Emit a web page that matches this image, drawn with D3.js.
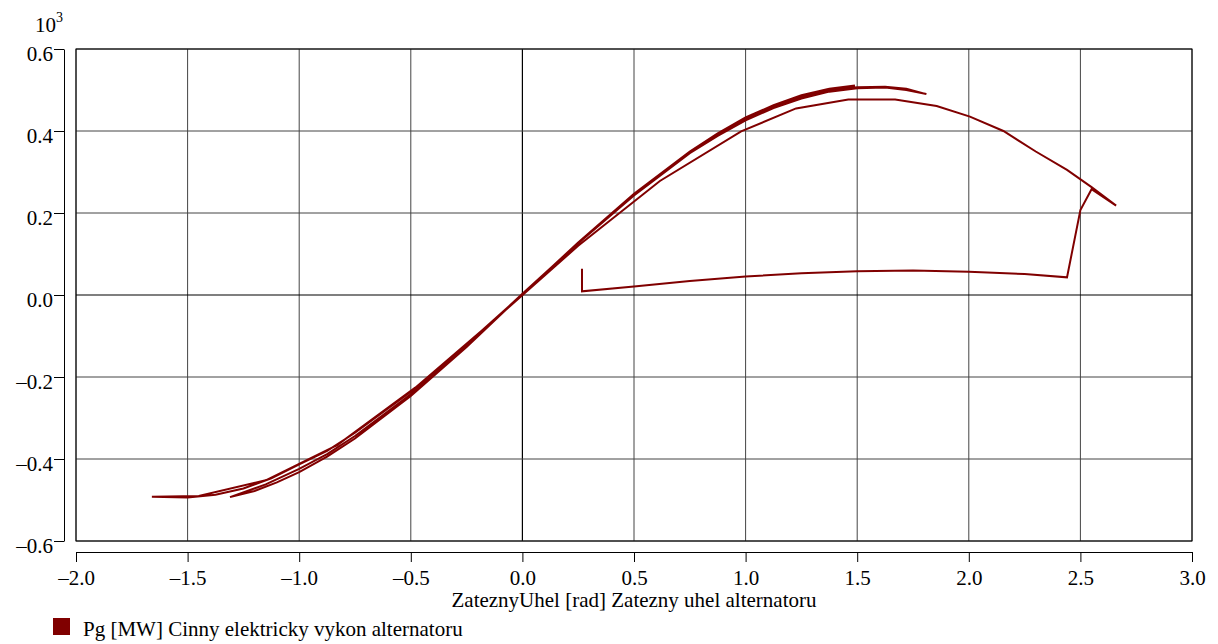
<!DOCTYPE html>
<html>
<head>
<meta charset="utf-8">
<script src="https://d3js.org/d3.v7.min.js"></script>
<style>
  body { margin: 0; background: #fff; }
  svg { display: block; }
</style>
</head>
<body>
<div id="chart-area"></div>
<script>
// Pg vs zatezny uhel - trajectory of the alternator (values in 10^3 MW)

var xTicks = [-2.0, -1.5, -1.0, -0.5, 0.0, 0.5, 1.0, 1.5, 2.0, 2.5, 3.0];
var yTicks = [-0.6, -0.4, -0.2, 0.0, 0.2, 0.4, 0.6];

// [delta rad, P 10^3 MW], in time order
var preFault = [[0.267, 0.064], [0.267, 0.009]];
var faultOn = [[0.5, 0.021], [0.75, 0.034], [1.0, 0.045], [1.25, 0.053], [1.5, 0.058],
               [1.75, 0.0595], [2.0, 0.057], [2.25, 0.051], [2.44, 0.043]];
var clearing = [[2.50, 0.207], [2.55, 0.258], [2.66, 0.218]];
var swing1 = [[2.55, 0.263], [2.44, 0.305], [2.30, 0.35], [2.155, 0.40], [2.005, 0.435],
              [1.856, 0.461], [1.67, 0.477], [1.46, 0.477], [1.226, 0.455], [0.98, 0.399],
              [0.616, 0.278], [0.25, 0.12], [-0.12, -0.058], [-0.48, -0.226], [-0.83, -0.366],
              [-1.15, -0.452], [-1.45, -0.49], [-1.66, -0.492]];
var swing2 = [[-1.5, -0.494], [-1.375, -0.487], [-1.25, -0.472], [-1.125, -0.447], [-1.0, -0.413],
              [-0.875, -0.38], [-0.75, -0.336], [-0.5, -0.236], [-0.25, -0.12], [0, 0.002],
              [0.25, 0.126], [0.5, 0.243], [0.75, 0.346], [0.875, 0.388], [1.0, 0.426],
              [1.125, 0.456], [1.25, 0.479], [1.375, 0.496], [1.5, 0.504], [1.625, 0.506],
              [1.72, 0.50], [1.81, 0.49]];
var swing3 = [[1.72, 0.503], [1.625, 0.508], [1.5, 0.507], [1.375, 0.499], [1.25, 0.483],
              [1.125, 0.459], [1.0, 0.429], [0.875, 0.391], [0.75, 0.348], [0.5, 0.245],
              [0.25, 0.127], [0, 0.003], [-0.25, -0.123], [-0.5, -0.242], [-0.75, -0.344],
              [-0.875, -0.388], [-1.0, -0.424], [-1.15, -0.462], [-1.31, -0.493]];
var swing4 = [[-1.2, -0.478], [-1.1, -0.457], [-1.0, -0.432], [-0.875, -0.394], [-0.75, -0.35],
              [-0.5, -0.246], [-0.25, -0.127], [0, 0.002], [0.25, 0.128], [0.5, 0.247],
              [0.75, 0.35], [0.875, 0.394], [1.0, 0.433], [1.125, 0.463], [1.25, 0.487],
              [1.375, 0.503], [1.49, 0.511]];

var seriesName = "Pg [MW] Cinny elektricky vykon alternatoru";
var xTitle = "ZateznyUhel [rad] Zatezny uhel alternatoru";
var lineColor = "#800000";
var font = "'Liberation Serif', 'Times New Roman', serif";
var fs = 21;

var W = 1218, H = 644;
var plot = {left: 76, right: 1192, top: 49, bottom: 541};

var svg = d3.select("#chart-area")
    .append("svg")
        .attr("width", W)
        .attr("height", H);

var x = d3.scaleLinear()
    .domain([-2, 3])
    .range([plot.left, plot.right]);

var y = d3.scaleLinear()
    .domain([-0.6, 0.6])
    .range([plot.bottom, plot.top]);

function fmt(v) {
    return v.toFixed(1).replace("-", "\u2013");
}

// grid
svg.append("g")
    .selectAll("line")
    .data(xTicks)
    .enter().append("line")
        .attr("x1", function(d) { return x(d); })
        .attr("x2", function(d) { return x(d); })
        .attr("y1", plot.top)
        .attr("y2", plot.bottom)
        .attr("stroke", function(d) { return d === 0 ? "#000" : "#444"; })
        .attr("stroke-width", function(d) { return d === 0 ? 1.2 : 1; });

svg.append("g")
    .selectAll("line")
    .data(yTicks)
    .enter().append("line")
        .attr("x1", plot.left)
        .attr("x2", plot.right)
        .attr("y1", function(d) { return y(d); })
        .attr("y2", function(d) { return y(d); })
        .attr("stroke", function(d) { return d === 0 ? "#000" : "#444"; })
        .attr("stroke-width", function(d) { return d === 0 ? 1.2 : 1; });

// frame
svg.append("rect")
    .attr("x", plot.left)
    .attr("y", plot.top)
    .attr("width", plot.right - plot.left)
    .attr("height", plot.bottom - plot.top)
    .attr("fill", "none")
    .attr("stroke", "#000")
    .attr("stroke-width", 1);

// axes (detached from the frame)
var yAxis = d3.axisLeft(y)
    .tickValues(yTicks)
    .tickFormat(fmt)
    .tickSizeInner(10)
    .tickSizeOuter(0)
    .tickPadding(1);

var gy = svg.append("g")
    .attr("transform", "translate(64,0)")
    .call(yAxis);

var xAxis = d3.axisBottom(x)
    .tickValues(xTicks)
    .tickFormat(fmt)
    .tickSizeInner(10)
    .tickSizeOuter(0)
    .tickPadding(8);

var gx = svg.append("g")
    .attr("transform", "translate(0,552)")
    .call(xAxis);

[gx, gy].forEach(function(g) {
    g.attr("font-family", font).attr("font-size", fs);
    g.selectAll("text").attr("fill", "#000");
    g.selectAll("line, path").attr("stroke", "#000");
});
gy.selectAll("text").attr("dy", "0.53em");

// 10^3 factor
var exp = svg.append("text")
    .attr("x", 35)
    .attr("y", 32)
    .attr("font-family", font)
    .attr("font-size", fs)
    .attr("fill", "#000")
    .text("10");
exp.append("tspan")
    .attr("dy", -10)
    .attr("font-size", 14)
    .text("3");

// x title
svg.append("text")
    .attr("x", (plot.left + plot.right) / 2)
    .attr("y", 607)
    .attr("text-anchor", "middle")
    .attr("font-family", font)
    .attr("font-size", fs)
    .attr("fill", "#000")
    .text(xTitle);

// trajectory
var path = [].concat(preFault, faultOn, clearing, swing1, swing2, swing3, swing4);

var line = d3.line()
    .x(function(d) { return x(d[0]); })
    .y(function(d) { return y(d[1]); });

svg.append("path")
    .datum(path)
    .attr("d", line)
    .attr("fill", "none")
    .attr("stroke", lineColor)
    .attr("stroke-width", 2)
    .attr("stroke-linejoin", "miter");

// legend
svg.append("rect")
    .attr("x", 53)
    .attr("y", 618)
    .attr("width", 17)
    .attr("height", 17)
    .attr("fill", lineColor);

svg.append("text")
    .attr("x", 83)
    .attr("y", 636)
    .attr("font-family", font)
    .attr("font-size", fs)
    .attr("fill", "#000")
    .text(seriesName);
</script>
</body>
</html>
